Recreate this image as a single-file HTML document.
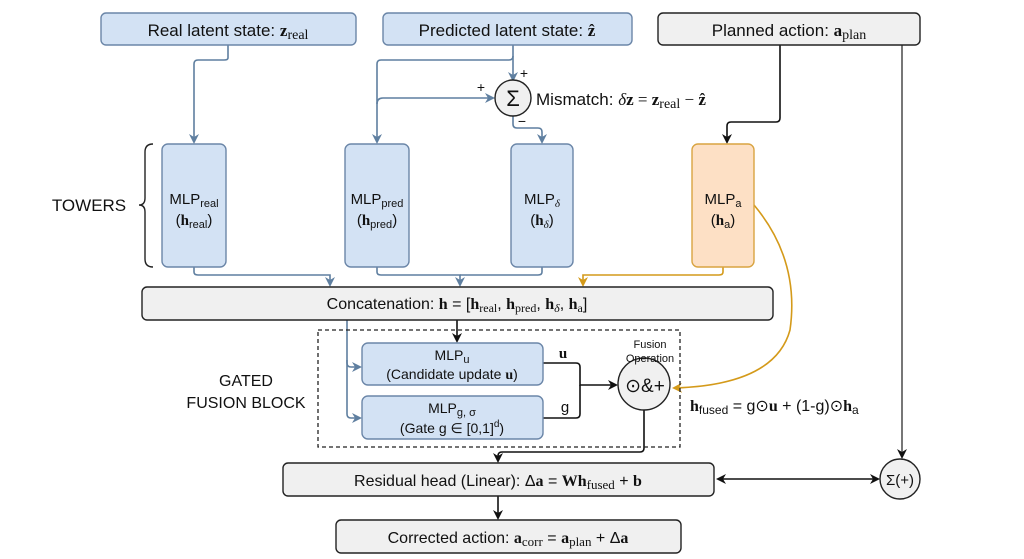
<!DOCTYPE html>
<html><head><meta charset="utf-8"><style>
body{margin:0;background:#fff}
svg{display:block;font-family:"Liberation Sans",sans-serif}
.m{font-family:"Liberation Serif",serif;font-weight:bold}
.s{font-family:"Liberation Serif",serif}
</style></head><body>
<svg width="1024" height="559" viewBox="0 0 1024 559">
<defs>
<marker id="ab" markerWidth="10" markerHeight="10" refX="8" refY="5" orient="auto" markerUnits="userSpaceOnUse"><path d="M0,0 L10,5 L0,10 L3,5z" fill="#5f7fa0"/></marker>
<marker id="ak" markerWidth="10" markerHeight="10" refX="8" refY="5" orient="auto" markerUnits="userSpaceOnUse"><path d="M0,0 L10,5 L0,10 L3,5z" fill="#111"/></marker>
<marker id="ao" markerWidth="10" markerHeight="10" refX="8" refY="5" orient="auto" markerUnits="userSpaceOnUse"><path d="M0,0 L10,5 L0,10 L3,5z" fill="#d49a1a"/></marker>
<marker id="aks" markerWidth="10" markerHeight="10" refX="2" refY="5" orient="auto" markerUnits="userSpaceOnUse"><path d="M10,0 L0,5 L10,10 L7,5z" fill="#111"/></marker>
</defs>
<g fill="none" stroke="#5f7fa0" stroke-width="1.6">
<path d="M228,45 V58 Q228,60 224,60 H198 Q194,60 194,64 V142" marker-end="url(#ab)"/>
<path d="M513,45 V80" marker-end="url(#ab)"/>
<path d="M513,56 Q513,60 509,60 H381 Q377,60 377,64 V142" marker-end="url(#ab)"/>
<path d="M377,104 Q377,98 383,98 H493" marker-end="url(#ab)"/>
<path d="M513,116 V124 Q513,128 517,128 H538 Q542,128 542,132 V142" marker-end="url(#ab)"/>
<path d="M194,267 V272 Q194,275 198,275 H330 V285" marker-end="url(#ab)"/>
<path d="M377,267 V272 Q377,275 381,275 H460 V285" marker-end="url(#ab)"/>
<path d="M542,267 V272 Q542,275 538,275 H460"/>
<path d="M347,320 V363 Q347,367 351,367 H360" marker-end="url(#ab)"/>
<path d="M347,360 V414 Q347,418 351,418 H360" marker-end="url(#ab)"/>
</g>
<g fill="none" stroke="#d49a1a" stroke-width="1.6">
<path d="M723,267 V272 Q723,275 719,275 H583 V285" marker-end="url(#ao)"/>
<path d="M754,205 Q800,260 790,330 Q775,385 674,388" marker-end="url(#ao)"/>
</g>
<g fill="none" stroke="#111" stroke-width="1.6">
<path d="M780,45 V118 Q780,122 776,122 H731 Q727,122 727,126 V142" marker-end="url(#ak)"/>
<path d="M457,320 V341" marker-end="url(#ak)"/>
<path d="M543,363 H576 Q580,363 580,367 V385 H616" marker-end="url(#ak)"/>
<path d="M543,418 H576 Q580,418 580,414 V385"/>
<path d="M644,410 V448 Q644,452 640,452 H502 Q498,452 498,456 V461" marker-end="url(#ak)"/>
<path d="M498,496 V518" marker-end="url(#ak)"/>
<path d="M718,479 H878" marker-end="url(#ak)" marker-start="url(#aks)"/>
</g>
<path d="M902,45 V457" stroke="#555" stroke-width="1.6" fill="none" marker-end="url(#ak)"/>
<path d="M153,144 Q145,144 145,152 V198 Q145,205 139,205 Q145,205 145,212 V259 Q145,267 153,267" stroke="#222" stroke-width="1.4" fill="none"/>
<g stroke="#6b86a8" stroke-width="1.4" fill="#d3e2f4">
<rect x="101" y="13" width="255" height="32" rx="5"/>
<rect x="383" y="13" width="249" height="32" rx="5"/>
<rect x="162" y="144" width="64" height="123" rx="6"/>
<rect x="345" y="144" width="64" height="123" rx="6"/>
<rect x="511" y="144" width="62" height="123" rx="6"/>
<rect x="362" y="343" width="181" height="42" rx="6"/>
<rect x="362" y="396" width="181" height="43" rx="6"/>
</g>
<rect x="692" y="144" width="62" height="123" rx="6" fill="#fde0c5" stroke="#d9a441" stroke-width="1.4"/>
<g stroke="#222" stroke-width="1.4" fill="#f0f0f0">
<rect x="658" y="13" width="262" height="32" rx="5"/>
<rect x="142" y="287" width="631" height="33" rx="5"/>
<rect x="283" y="463" width="431" height="33" rx="5"/>
<rect x="336" y="520" width="345" height="33" rx="5"/>
<circle cx="513" cy="98" r="18"/>
<circle cx="644" cy="384" r="26"/>
<circle cx="900" cy="479" r="20"/>
</g>
<rect x="318" y="330" width="362" height="117" fill="none" stroke="#222" stroke-width="1.3" stroke-dasharray="4,3"/>
<g font-size="16" fill="#111" text-anchor="middle">
<text x="228" y="36" font-size="17">Real latent state: <tspan class="m">z</tspan><tspan class="s" font-size="14" dy="3">real</tspan></text>
<text x="507" y="36" font-size="17">Predicted latent state: <tspan class="m">ẑ</tspan></text>
<text x="789" y="36" font-size="17">Planned action: <tspan class="m">a</tspan><tspan class="s" font-size="14" dy="3">plan</tspan></text>
<text x="513" y="106" font-size="22">Σ</text>
<text x="536" y="105" text-anchor="start" font-size="17">Mismatch: <tspan class="s" font-style="italic">δ</tspan><tspan class="m">z</tspan><tspan class="s"> = </tspan><tspan class="m">z</tspan><tspan class="s" font-size="14" dy="3">real</tspan><tspan class="s" dy="-3"> − </tspan><tspan class="m">ẑ</tspan></text>
<text x="481" y="92" font-size="14">+</text><text x="524" y="78" font-size="14">+</text><text x="522" y="126" font-size="14">−</text>
<text x="89" y="211" font-size="17">TOWERS</text>
<text x="194" y="204" font-size="15">MLP<tspan font-size="11" dy="3">real</tspan></text>
<text x="194" y="225" font-size="15">(<tspan class="m">h</tspan><tspan font-size="11" dy="3">real</tspan><tspan dy="-3">)</tspan></text>
<text x="377" y="204" font-size="15">MLP<tspan font-size="11" dy="3">pred</tspan></text>
<text x="377" y="225" font-size="15">(<tspan class="m">h</tspan><tspan font-size="11" dy="3">pred</tspan><tspan dy="-3">)</tspan></text>
<text x="542" y="204" font-size="15">MLP<tspan font-size="11" dy="3" class="s" font-style="italic">δ</tspan></text>
<text x="542" y="225" font-size="15">(<tspan class="m">h</tspan><tspan font-size="11" dy="3" class="s" font-style="italic">δ</tspan><tspan dy="-3">)</tspan></text>
<text x="723" y="204" font-size="15">MLP<tspan font-size="11" dy="3">a</tspan></text>
<text x="723" y="225" font-size="15">(<tspan class="m">h</tspan><tspan font-size="11" dy="3">a</tspan><tspan dy="-3">)</tspan></text>
<text x="457" y="309">Concatenation: <tspan class="m">h</tspan> = [<tspan class="m">h</tspan><tspan class="s" font-size="12" dy="3">real</tspan><tspan dy="-3">, </tspan><tspan class="m">h</tspan><tspan class="s" font-size="12" dy="3">pred</tspan><tspan dy="-3">, </tspan><tspan class="m">h</tspan><tspan class="s" font-size="12" dy="3" font-style="italic">δ</tspan><tspan dy="-3">, </tspan><tspan class="m">h</tspan><tspan class="s" font-size="12" dy="3">a</tspan><tspan dy="-3">]</tspan></text>
<text x="246" y="386">GATED</text><text x="246" y="408">FUSION BLOCK</text>
<text x="452" y="360" font-size="14">MLP<tspan font-size="11" dy="3">u</tspan></text>
<text x="452" y="379" font-size="14">(Candidate update <tspan class="m">u</tspan>)</text>
<text x="452" y="413" font-size="14">MLP<tspan font-size="11" dy="3">g, σ</tspan></text>
<text x="452" y="433" font-size="14">(Gate g ∈ [0,1]<tspan font-size="10" dy="-6">d</tspan><tspan dy="6">)</tspan></text>
<text x="563" y="358" class="m" font-size="15">u</text>
<text x="565" y="412" font-size="15">g</text>
<text x="650" y="348" font-size="11">Fusion</text>
<text x="650" y="362" font-size="11">Operation</text>
<text x="645" y="392" font-size="19">⊙&amp;+</text>
<text x="690" y="411" text-anchor="start"><tspan class="m">h</tspan><tspan font-size="12" dy="3">fused</tspan><tspan dy="-3"> = g⊙</tspan><tspan class="m">u</tspan> + (1-g)⊙<tspan class="m">h</tspan><tspan font-size="12" dy="3">a</tspan></text>
<text x="498" y="486">Residual head (Linear): Δ<tspan class="m">a</tspan> = <tspan class="m">Wh</tspan><tspan class="s" font-size="13" dy="3">fused</tspan><tspan dy="-3"> + </tspan><tspan class="m">b</tspan></text>
<text x="900" y="485" font-size="15">Σ(+)</text>
<text x="508" y="543">Corrected action: <tspan class="m">a</tspan><tspan class="s" font-size="13" dy="3">corr</tspan><tspan dy="-3"> = </tspan><tspan class="m">a</tspan><tspan class="s" font-size="13" dy="3">plan</tspan><tspan dy="-3"> + Δ</tspan><tspan class="m">a</tspan></text>
</g>
</svg>
</body></html>
